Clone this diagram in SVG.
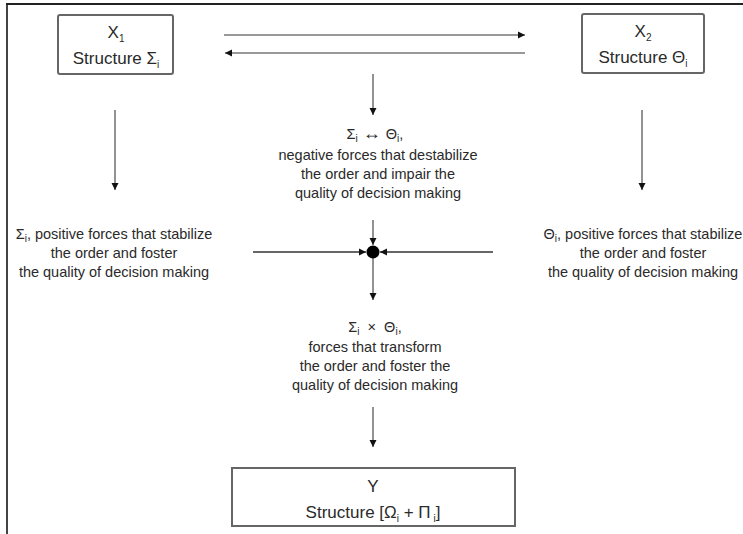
<svg xmlns="http://www.w3.org/2000/svg" width="743" height="534" viewBox="0 0 743 534">
<defs>
<style>
.box{fill:#fff;stroke:#666;stroke-width:2}
.ln{stroke:#777;stroke-width:1.6;fill:none}
.hl{stroke:#666;stroke-width:2.2;fill:none}
.t{font-family:"Liberation Sans",Arial,sans-serif;fill:#2a2a2a;text-anchor:middle}
.s{font-size:14.5px}
.b{font-size:17px}
.sub{font-size:10px}
</style>
<marker id="ah" markerWidth="8" markerHeight="8" refX="7" refY="4" orient="auto" markerUnits="userSpaceOnUse">
<path d="M0,0.5 L7,4 L0,7.5 Z" fill="#111"/>
</marker>
</defs>
<rect x="0" y="0" width="743" height="534" fill="#fff"/>
<g id="frame">
<line x1="7" y1="4" x2="7" y2="534" stroke="#444" stroke-width="2"/>
<line x1="6" y1="4" x2="743" y2="4" stroke="#222" stroke-width="2"/>
</g>
<g id="connectors">
<line class="ln" x1="224" y1="35" x2="525" y2="35" marker-end="url(#ah)"/>
<line class="ln" x1="525" y1="53" x2="225" y2="53" marker-end="url(#ah)"/>
<line class="ln" x1="373" y1="74" x2="373" y2="115" marker-end="url(#ah)"/>
<line class="ln" x1="115" y1="110" x2="115" y2="190" marker-end="url(#ah)"/>
<line class="ln" x1="642" y1="110" x2="642" y2="190" marker-end="url(#ah)"/>
<line class="hl" x1="253" y1="252" x2="366" y2="252" marker-end="url(#ah)"/>
<line class="hl" x1="493" y1="252" x2="380" y2="252" marker-end="url(#ah)"/>
<line class="ln" x1="373" y1="220" x2="373" y2="245" marker-end="url(#ah)"/>
<line class="ln" x1="373" y1="258" x2="373" y2="300" marker-end="url(#ah)"/>
<line class="ln" x1="373" y1="407" x2="373" y2="447" marker-end="url(#ah)"/>
<circle cx="373" cy="252" r="6.5" fill="#000"/>
</g>
<g id="x1">
<rect class="box" x="58" y="15" width="115" height="59" rx="2"/>
<text class="t b" x="116" y="38">X<tspan class="sub" dy="4">1</tspan></text>
<text class="t b" x="116" y="64">Structure Σ<tspan class="sub" dy="4">i</tspan></text>
</g>
<g id="x2">
<rect class="box" x="582" y="14" width="122" height="59" rx="2"/>
<text class="t b" x="643" y="37">X<tspan class="sub" dy="4">2</tspan></text>
<text class="t b" x="643" y="63">Structure Θ<tspan class="sub" dy="4">i</tspan></text>
</g>
<g id="neg">
<text class="t s" x="375" y="139">Σ<tspan class="sub" dy="3">i</tspan><tspan dy="-3" font-weight="bold" font-size="18px">&#160;↔&#160;</tspan><tspan dy="0">Θ</tspan><tspan class="sub" dy="3">i</tspan><tspan dy="-3">,</tspan></text>
<text class="t s" x="378" y="160">negative forces that destabilize</text>
<text class="t s" x="378" y="179">the order and impair the</text>
<text class="t s" x="378" y="198">quality of decision making</text>
</g>
<g id="left">
<text class="t s" x="114" y="239">Σ<tspan class="sub" dy="3">i</tspan><tspan dy="-3">, positive forces that stabilize</tspan></text>
<text class="t s" x="114" y="258">the order and foster</text>
<text class="t s" x="114" y="277">the quality of decision making</text>
</g>
<g id="right">
<text class="t s" x="643" y="239">Θ<tspan class="sub" dy="3">i</tspan><tspan dy="-3">, positive forces that stabilize</tspan></text>
<text class="t s" x="643" y="258">the order and foster</text>
<text class="t s" x="643" y="277">the quality of decision making</text>
</g>
<g id="trans">
<text class="t s" x="375" y="332">Σ<tspan class="sub" dy="3">i</tspan><tspan dy="-3">&#160;&#160;×&#160;&#160;Θ</tspan><tspan class="sub" dy="3">i</tspan><tspan dy="-3">,</tspan></text>
<text class="t s" x="375" y="352">forces that transform</text>
<text class="t s" x="375" y="371">the order and foster the</text>
<text class="t s" x="375" y="390">quality of decision making</text>
</g>
<g id="y">
<rect class="box" x="232" y="468" width="283" height="58"/>
<text class="t b" x="373" y="492">Y</text>
<text class="t b" x="373" y="518">Structure [Ω<tspan class="sub" dy="4">i</tspan><tspan dy="-4"> + Π</tspan><tspan class="sub" dy="4"> i</tspan><tspan dy="-4">]</tspan></text>
</g>
</svg>
